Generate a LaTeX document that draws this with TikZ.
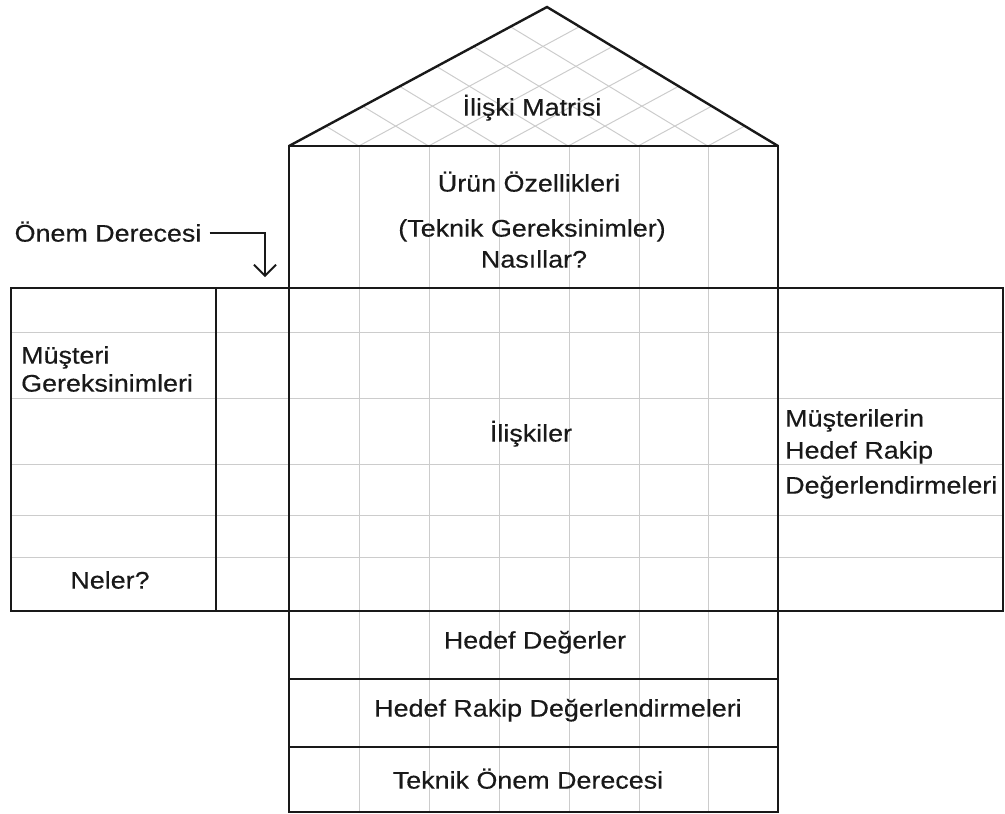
\documentclass[tikz,border=0pt]{standalone}
\usepackage{fontspec}
\setmainfont{Liberation Sans}[FakeStretch=1.12,FakeBold=0.4]
\usetikzlibrary{arrows.meta}
\begin{document}
\begin{tikzpicture}[x=1pt,y=-1pt,
  frame/.style={line width=2.4pt, black!90},
  faint/.style={line width=1pt, black!20},
  lbl/.style={font=\fontsize{24}{28}\selectfont, inner sep=1pt, text=black!90,
              text height=17.2pt, text depth=0pt},
  pointer/.style={line width=1.8pt, black!90, -{Straight Barb[length=11pt,width=22pt]}},
]
\useasboundingbox (0,0) rectangle (1005,814);

% diagonal lattice inside the roof
\begin{scope}
  \clip (289,146) -- (547,7) -- (778,146) -- cycle;
  \foreach \k in {0,...,7} {
    \draw[faint] (289+69.8*\k,146) -- ++(257,-139);
    \draw[faint] (289+69.8*\k,146) -- ++(-230,-139);
  }
\end{scope}

% light grid of the matrix
\foreach \x in {359,429,499,569,639,708}
  \draw[faint] (\x,146) -- (\x,812);
\foreach \y in {332,398,464,515,557}
  \draw[faint] (11,\y) -- (1003,\y);

% heavy outlines
\draw[frame] (289,146) -- (547,7) -- (778,146);
\draw[frame] (289,146) rectangle (778,812);
\draw[frame] (11,288) rectangle (1003,611);
\draw[frame] (216,288) -- (216,611);
\draw[frame] (289,679) -- (778,679);
\draw[frame] (289,747) -- (778,747);

% labels
\node[lbl] (roof) at (532,107) {İlişki Matrisi};
\node[lbl] (feat) at (529,183) {Ürün Özellikleri};
\node[lbl] (tech) at (532,228) {(Teknik Gereksinimler)};
\node[lbl] (how) at (534,259) {Nasıllar?};
\node[lbl] (imp) at (108,233) {Önem Derecesi};
\node[lbl, anchor=west] (cust1) at (20,355) {Müşteri};
\node[lbl, anchor=west] (cust2) at (20,383) {Gereksinimleri};
\node[lbl] (what) at (110,580) {Neler?};
\node[lbl] (rel) at (531,433) {İlişkiler};
\node[lbl, anchor=west] (comp1) at (784,418) {Müşterilerin};
\node[lbl, anchor=west] (comp2) at (784,450) {Hedef Rakip};
\node[lbl, anchor=west] (comp3) at (784,485) {Değerlendirmeleri};
\node[lbl] (target) at (535,640) {Hedef Değerler};
\node[lbl] (bench) at (558,708) {Hedef Rakip Değerlendirmeleri};
\node[lbl] (timp) at (528,780) {Teknik Önem Derecesi};

% pointer to the importance column
\coordinate (tip) at (265,277);
\draw[pointer] ([xshift=7pt]imp.east) -- (265,233) -- (tip);
\end{tikzpicture}
\end{document}
